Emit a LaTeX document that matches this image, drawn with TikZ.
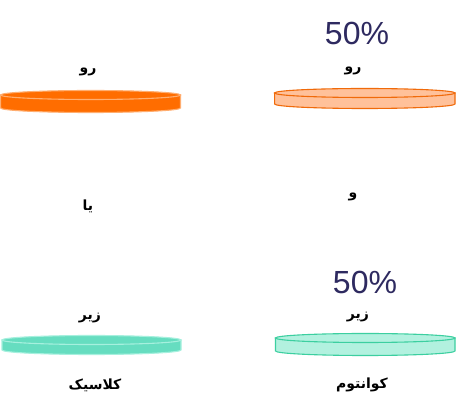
\documentclass[tikz,border=0pt]{standalone}
\usepackage{fontspec}
\TeXXeTstate=1
\newfontfamily\fa[Script=Arabic]{DejaVu Sans}
\newfontfamily\lat{Liberation Sans}
\definecolor{pct}{HTML}{2E2A60}
\definecolor{oA}{HTML}{FF6D00}
\definecolor{oAe}{HTML}{FFAE70}
\definecolor{oB}{HTML}{FFC19A}
\definecolor{oBe}{HTML}{F06A0A}
\definecolor{tA}{HTML}{66DDC0}
\definecolor{tAe}{HTML}{A6F0DE}
\definecolor{tB}{HTML}{B2F1DF}
\definecolor{tBe}{HTML}{3CCFA0}
\tikzset{
  fatxt/.style={font=\fa\bfseries\fontsize{14}{16}\selectfont, text=black, inner sep=0pt},
  pcttxt/.style={font=\lat\fontsize{32}{36}\selectfont, text=pct, inner sep=0pt},
}
% disc: #1 left x, #2 right x, #3 top cy, #4 bottom cy, #5 ry, #6 fill, #7 edge, #8 name
\newcommand{\mydisc}[8]{%
  \pgfmathsetmacro{\cx}{(#1+#2)/2}
  \pgfmathsetmacro{\rx}{(#2-#1)/2}
  \draw[fill=#6, draw=#7, line width=1.1pt]
    (#1,#3) -- (#1,#4) arc[start angle=180, end angle=360, x radius=\rx, y radius=-#5] -- (#2,#3) -- cycle;
  \draw[fill=#6, draw=#7, line width=1.1pt] (\cx,#3) ellipse[x radius=\rx, y radius=#5];
  \coordinate (#8) at (\cx,#3);
}
\begin{document}
\begin{tikzpicture}[x=1pt,y=-1pt]
\useasboundingbox (0,0) rectangle (456,414);
\fill[white] (0,0) rectangle (456,414);
\mydisc{0.6}{180.5}{95}{108}{4.5}{oA}{oAe}{d1}
\mydisc{274.6}{455}{93}{104}{4.5}{oB}{oBe}{d2}
\mydisc{2}{181}{340}{350}{4.5}{tA}{tAe}{d3}
\mydisc{275.5}{455}{338}{351}{4.5}{tB}{tBe}{d4}

\node[pcttxt] (p1) at (357,33) {50\%};
\node[pcttxt] (p2) at (365,282) {50\%};

\node[fatxt] (u1) at (88,72) {\beginR رو\endR};
\node[fatxt] (u2) at (353,71) {\beginR رو\endR};
\node[fatxt] (or) at (88,206) {\beginR یا\endR};
\node[fatxt] (and) at (353,197) {\beginR و\endR};
\node[fatxt] (z1) at (90,318) {\beginR زیر\endR};
\node[fatxt] (z2) at (358,317) {\beginR زیر\endR};
\node[fatxt] (cl) at (95,385) {\beginR کلاسیک\endR};
\node[fatxt] (qu) at (362,385) {\beginR کوانتوم\endR};
\end{tikzpicture}
\end{document}
